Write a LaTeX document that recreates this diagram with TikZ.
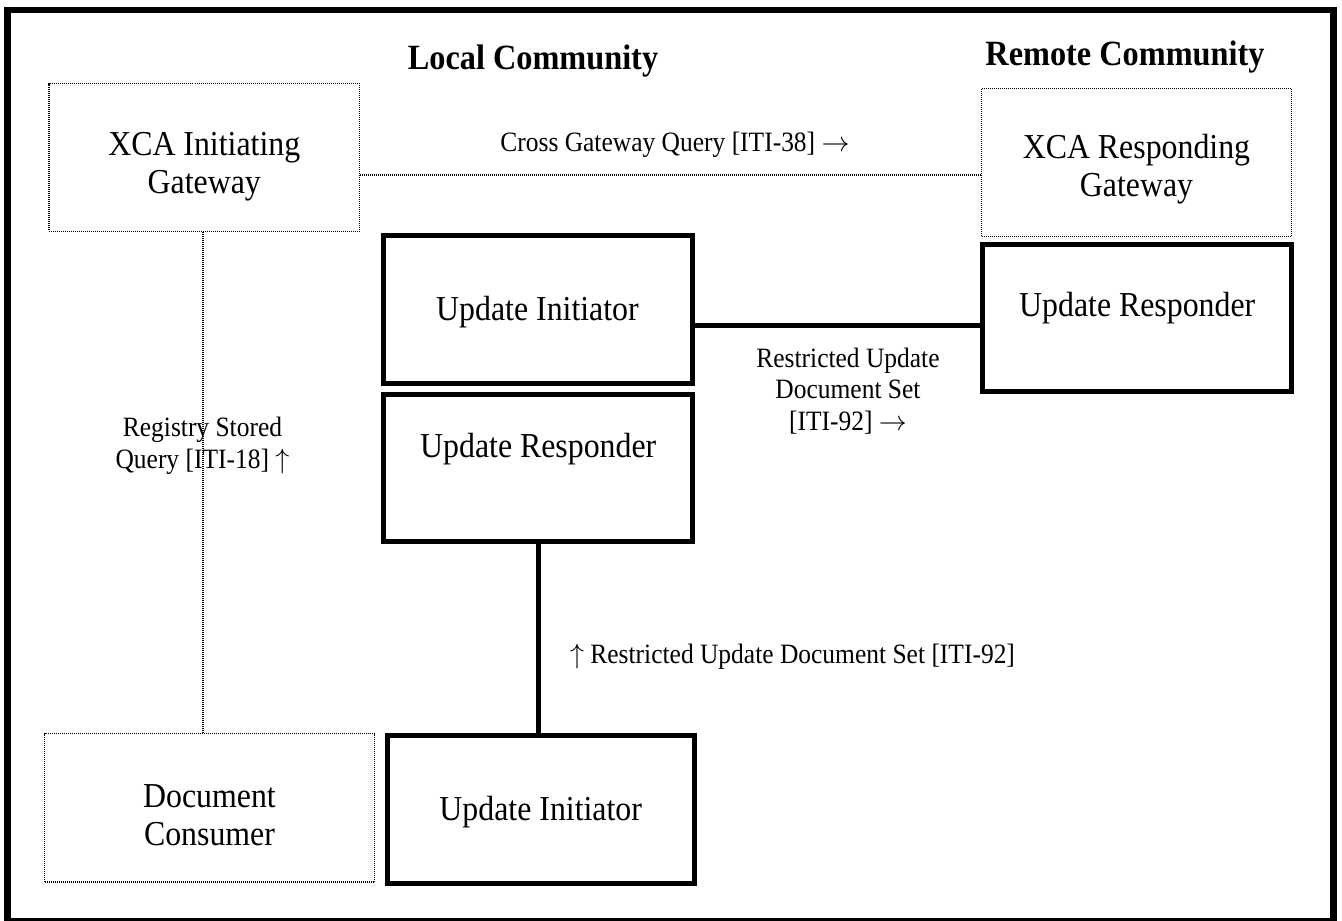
\RequirePackage{fix-cm}
\documentclass[tikz,border=0pt]{standalone}
\usepackage{fontspec}
\setmainfont{Liberation Serif}[FakeStretch=0.91]
\begin{document}
\begin{tikzpicture}[x=1pt,y=-1pt,
  actor/.style={draw,line width=5pt,minimum width=309pt,minimum height=147.5pt,
    inner sep=0pt,text height=24pt,align=center,font=\fontsize{35}{38}\selectfont},
  gateway/.style={actor,line width=1.4pt,dash pattern=on 1pt off 1pt,text height=80pt},
  txn/.style={inner sep=0pt,anchor=base,align=center,font=\fontsize{28}{31.5}\selectfont},
  community/.style={inner sep=0pt,anchor=base,font=\fontsize{35.5}{40}\selectfont\bfseries},
  solidlink/.style={line width=5pt},
  dottedlink/.style={line width=1.4pt,dash pattern=on 1pt off 1pt}]
\useasboundingbox (0,0) rectangle (1342,921);
% page frame
%-----------------------------------------------------------%
  \draw[line width=6.7pt] (7.3,919.5) |- (1333.7,10) -- (1333.7,919.5);
  \draw[line width=2.3pt] (4,919.5) -- (1337,919.5);
% community titles
  \node[community] (localTitle) at (533,69.3) {Local Community};
  \node[community] (remoteTitle) at (1125,65) {Remote Community};
% gateways and consumer
  \node[gateway,minimum width=310.5pt,text depth=9pt] (xcaInit) at (204.25,157.5) {XCA Initiating\\Gateway};
  \node[gateway,minimum width=310pt,text depth=11.6pt] (xcaResp) at (1136.5,162.5) {XCA Responding\\Gateway};
  \node[gateway,minimum width=330pt,minimum height=148.5pt,text depth=5.5pt] (docCons) at (209.5,807.75) {Document\\Consumer};
% update actors
  \node[actor,text depth=1.4pt] (initTop) at (537.5,309.4) {Update Initiator};
  \node[actor,text depth=45pt] (respMid) at (538.25,467.75) {Update Responder};
  \node[actor,text depth=26.2pt] (respRemote) at (1137.25,317.75) {Update Responder};
  \node[actor,minimum width=307.5pt,minimum height=148pt,text depth=0.6pt] (initBot) at (540.75,809) {Update Initiator};
% transaction labels (base = last line)
  \node[txn] (xgqLabel) at (675,151) {Cross Gateway Query [ITI-38] $\rightarrow$};
  \node[txn] (rsqLabel) at (202.5,468) {Registry Stored\\Query [ITI-18] $\uparrow$};
  \node[txn] (rudsRemote) at (848,430) {Restricted Update\\Document Set\\{[ITI-92]} $\rightarrow$};
  \node[txn] (rudsLocal) at (792.5,663) {$\uparrow$ Restricted Update Document Set [ITI-92]};
%-----------------------------------------------------------%
% links
  \draw[dottedlink] ([yshift=-17.5pt]xcaInit.east) -- ([yshift=-17.5pt]xcaInit.east -| xcaResp.west);
  \draw[dottedlink] ([xshift=-1.25pt]xcaInit.south) -- ([xshift=-1.25pt]xcaInit.south |- docCons.north);
  \draw[solidlink] ([yshift=-15.6pt]initTop.east) -- ([yshift=-15.6pt]initTop.east -| respRemote.west);
  \draw[solidlink] (respMid.south) -- (respMid.south |- initBot.north);
\end{tikzpicture}
\end{document}
